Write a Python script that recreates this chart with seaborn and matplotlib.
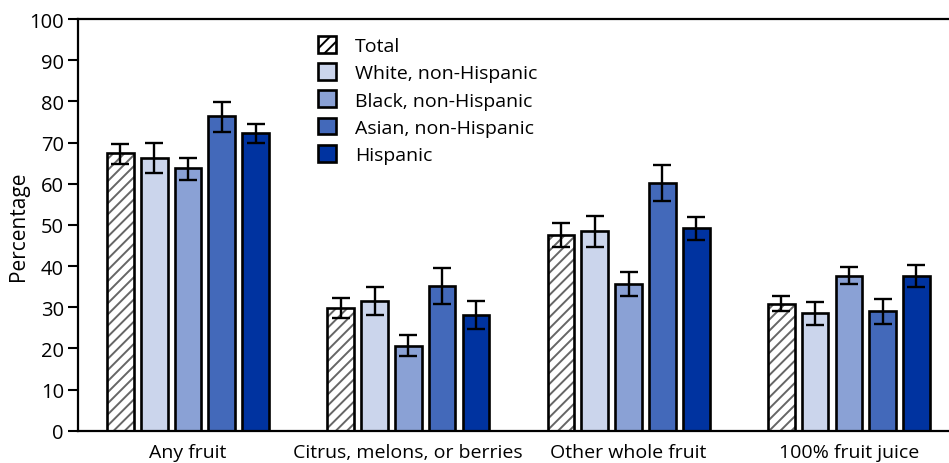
import matplotlib
matplotlib.use('Agg')
import matplotlib.pyplot as plt
from matplotlib.patches import Patch, Rectangle
import seaborn as sns
import pandas as pd

categories = ['Any fruit', 'Citrus, melons, or berries', 'Other whole fruit', '100% fruit juice']
groups = ['Total', 'White, non-Hispanic', 'Black, non-Hispanic', 'Asian, non-Hispanic', 'Hispanic']

# percent per group, one list per fruit category (order = groups)
any_fruit = [67.4, 66.3, 63.7, 76.5, 72.3]
citrus = [29.7, 31.4, 20.5, 35.1, 28.1]
other_whole = [47.5, 48.5, 35.7, 60.2, 49.2]
juice = [30.8, 28.6, 37.6, 29.0, 37.6]

any_lo = [64.9, 62.6, 60.9, 72.6, 69.8]
any_hi = [69.6, 69.9, 66.3, 79.8, 74.4]
citrus_lo = [27.3, 28.1, 18.2, 30.8, 24.7]
citrus_hi = [32.3, 34.8, 23.2, 39.5, 31.6]
other_lo = [44.7, 44.6, 32.8, 55.7, 46.2]
other_hi = [50.4, 52.1, 38.6, 64.5, 51.9]
juice_lo = [29.0, 25.7, 35.6, 25.9, 35.0]
juice_hi = [32.7, 31.2, 39.8, 32.0, 40.2]

colors = ['white', '#cbd5ec', '#8aa1d5', '#4369ba', '#0033a0']

values = [any_fruit, citrus, other_whole, juice]
lows = [any_lo, citrus_lo, other_lo, juice_lo]
highs = [any_hi, citrus_hi, other_hi, juice_hi]

rows = []
for cat, vals, lo, hi in zip(categories, values, lows, highs):
    for g, v, l, h in zip(groups, vals, lo, hi):
        rows.append({'category': cat, 'group': g, 'pct': v, 'lo': l, 'hi': h})
df = pd.DataFrame(rows)

sns.set_theme(style='white')
plt.rcParams['font.family'] = ['Open Sans', 'DejaVu Sans']
plt.rcParams['hatch.linewidth'] = 1.4
plt.rcParams['text.color'] = 'black'

fig = plt.figure(figsize=(9.49, 4.64), dpi=100)
ax = fig.add_axes([77.85 / 949, 32.3 / 464, 881.2 / 949, 411.7 / 464])

sns.barplot(data=df, x='category', y='pct', hue='group', order=categories,
            hue_order=groups, palette=dict(zip(groups, colors)), saturation=1,
            width=0.767, gap=0.21, errorbar=None, edgecolor='black',
            linewidth=1.9, legend=False, ax=ax)

# error bars and hatching, using the bar positions seaborn laid out
for container, g in zip(ax.containers, groups):
    sub = df[df['group'] == g].set_index('category').loc[categories]
    xs = [p.get_x() + p.get_width() / 2 for p in container.patches]
    ax.errorbar(xs, sub['pct'], yerr=[sub['pct'] - sub['lo'], sub['hi'] - sub['pct']],
                fmt='none', ecolor='black', elinewidth=1.7, capsize=6.5,
                capthick=1.7, zorder=5)
    if g == 'Total':
        for p in container.patches:
            p.set_hatch('///')
            p.set_edgecolor('#666666')
            p.set_linewidth(0)
            ax.add_patch(Rectangle((p.get_x(), 0), p.get_width(), p.get_height(),
                                   facecolor='none', edgecolor='black',
                                   linewidth=1.9, zorder=4))

ax.set_xlim(-0.5, 3.5)
ax.set_ylim(0, 100)
ax.set_yticks(range(0, 101, 10))
ax.set_xlabel('')
ax.set_ylabel('Percentage', fontsize=15, labelpad=0, color='black')
ax.tick_params(axis='y', which='both', left=True, length=7, width=1.5,
               direction='out', labelsize=14.5, pad=3, colors='black')
ax.tick_params(axis='x', bottom=False, labelsize=14, pad=3, colors='black')
for s in ['left', 'bottom', 'top']:
    ax.spines[s].set_color('black')
    ax.spines[s].set_linewidth(1.6)
ax.spines['right'].set_visible(False)

handles = []
for g, c in zip(groups, colors):
    if g == 'Total':
        handles.append(Patch(facecolor='white', edgecolor='black', hatch='///', linewidth=1.9))
    else:
        handles.append(Patch(facecolor=c, edgecolor='black', linewidth=1.9))
fig.legend(handles, groups, loc='upper left', bbox_to_anchor=(318 / 949, 1 - 37 / 464),
           frameon=False, fontsize=14, handlelength=0.95, handleheight=0.95,
           handletextpad=0.95, labelspacing=0.42, borderpad=0, borderaxespad=0)

fig.savefig('out.png', dpi=100)
